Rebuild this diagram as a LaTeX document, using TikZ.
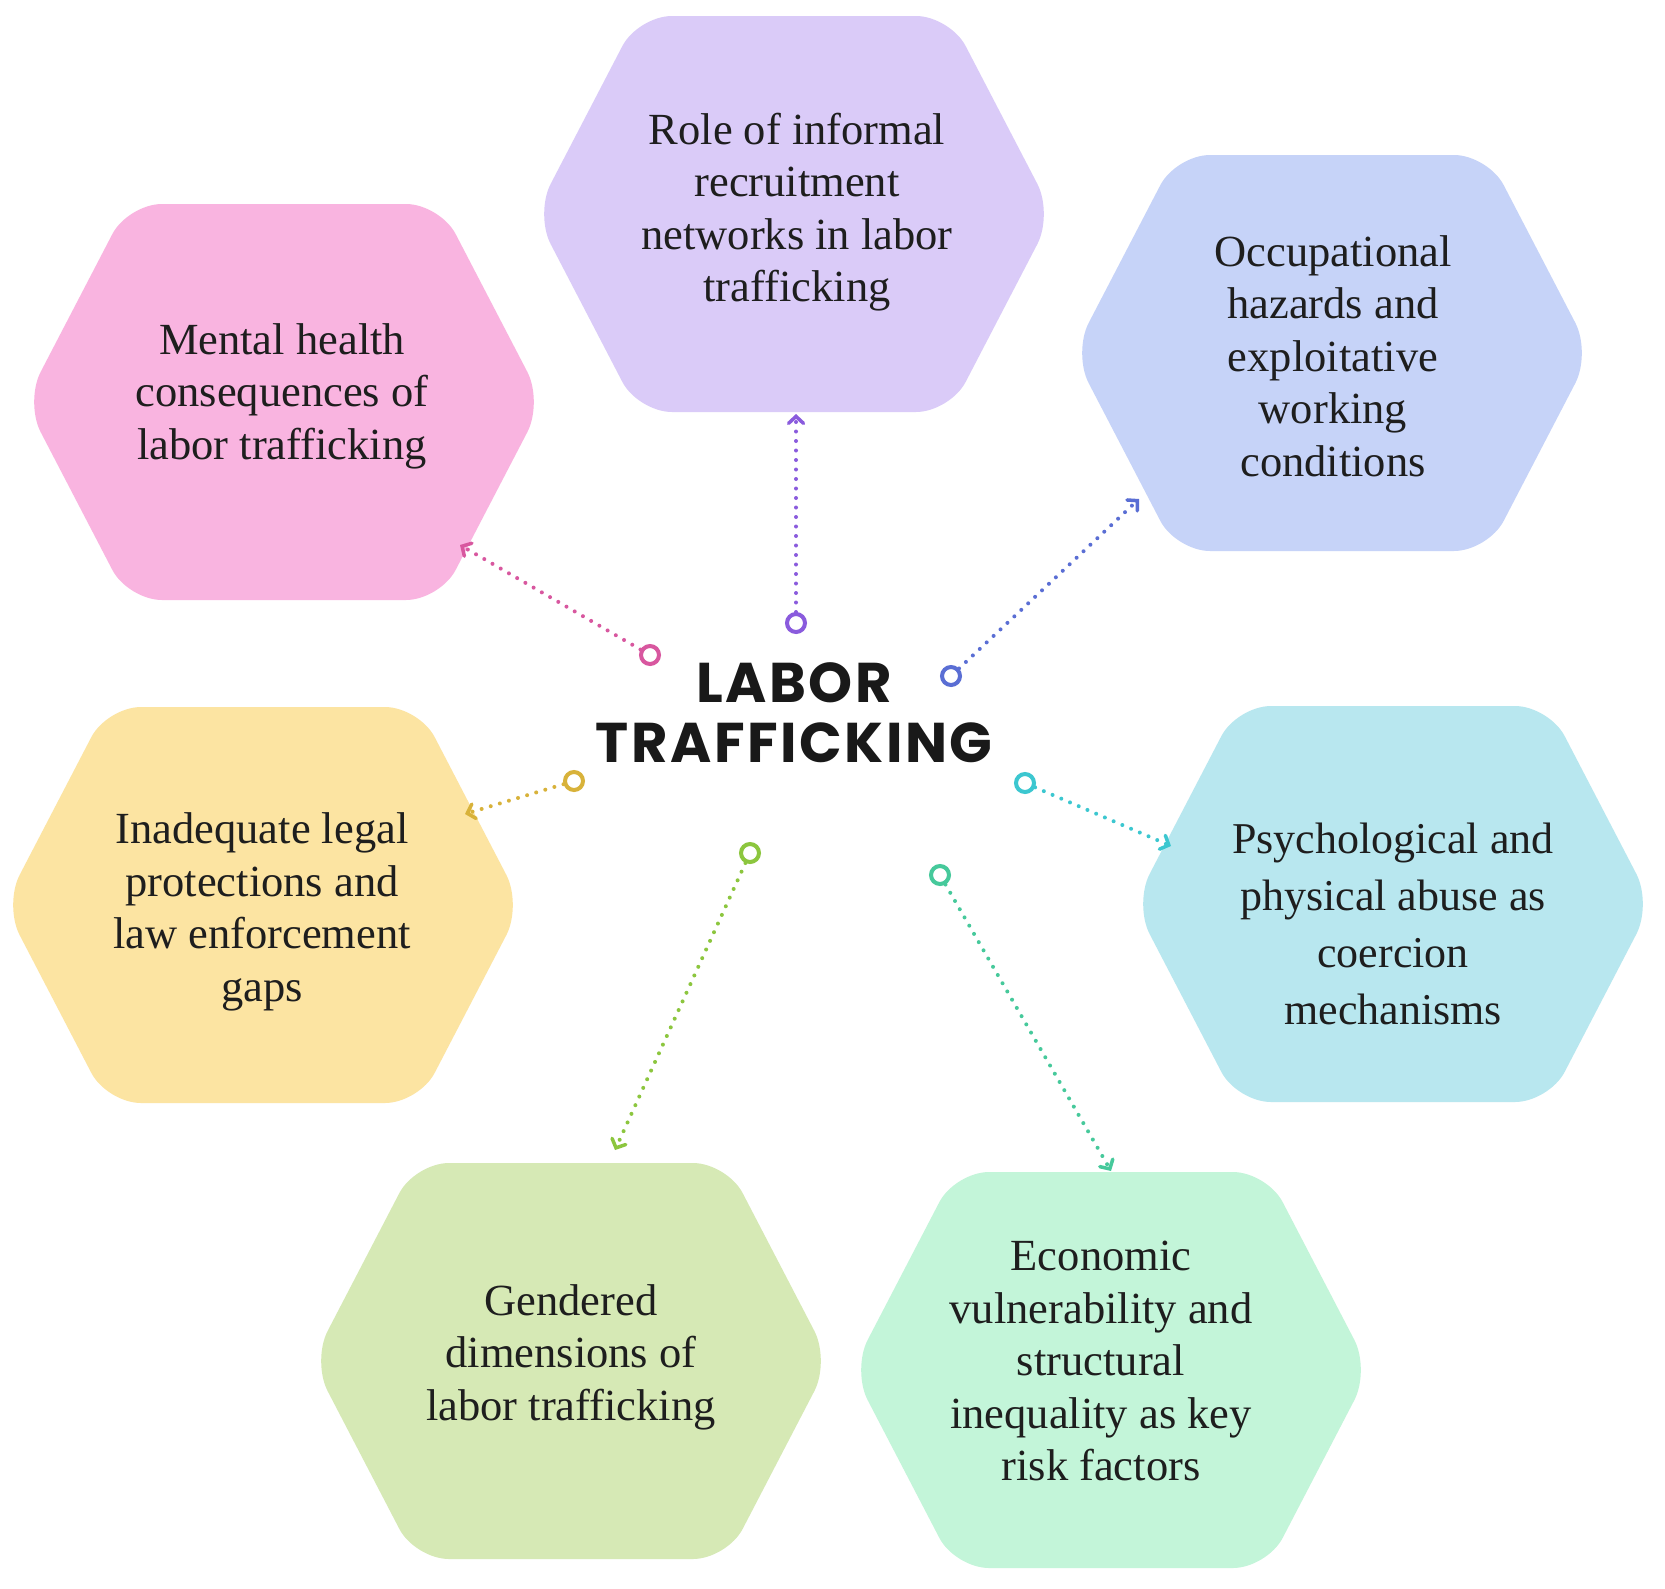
\documentclass[tikz,border=0pt]{standalone}
\usepackage{fontspec}
\setmainfont{Liberation Serif}
\newfontfamily\titlefont{Poppins}[LetterSpace=4.5]
\usetikzlibrary{arrows.meta}
\definecolor{txt}{HTML}{1E1E1E}
\definecolor{fpurple}{HTML}{DACBF8}
\definecolor{lpurple}{HTML}{8A5BDD}
\definecolor{fpink}{HTML}{F9B4E0}
\definecolor{lpink}{HTML}{D8579F}
\definecolor{fblue}{HTML}{C6D3F8}
\definecolor{lblue}{HTML}{5A6ED4}
\definecolor{fyellow}{HTML}{FCE4A2}
\definecolor{lyellow}{HTML}{D8B23A}
\definecolor{fcyan}{HTML}{B8E7EF}
\definecolor{lcyan}{HTML}{3CC7D0}
\definecolor{fgreen}{HTML}{D6E9B5}
\definecolor{lgreen}{HTML}{8CC63E}
\definecolor{fmint}{HTML}{C3F5D9}
\definecolor{lmint}{HTML}{46C99B}
\newcommand\hexa[3]{\fill[#3, rounded corners=34pt] ({#1-259},{#2}) -- ({#1-156},{#2-198}) -- ({#1+156},{#2-198}) -- ({#1+259},{#2}) -- ({#1+156},{#2+198}) -- ({#1-156},{#2+198}) -- cycle;}
\begin{document}
\begin{tikzpicture}[x=1pt,y=-1pt,
  lbl/.style={font=\fontsize{44.5}{52.5}\selectfont, align=center, text=txt, inner sep=0pt},
  dotc/.style={circle, draw=#1, line width=4pt, fill=white, minimum size=18pt, inner sep=0pt},
  conn/.style={draw=#1, line width=4pt, line cap=round, dash pattern=on 0pt off 9.5pt,
    -{Straight Barb[length=7pt,width=15pt,line width=3.5pt,line cap=round]}}]
\useasboundingbox (0,0) rectangle (1665,1588);
\fill[white] (0,0) rectangle (1665,1588);
% hexagons
\hexa{794}{214}{fpurple}
\hexa{284}{402}{fpink}
\hexa{1332}{353}{fblue}
\hexa{263}{905}{fyellow}
\hexa{1393}{904}{fcyan}
\hexa{571}{1361}{fgreen}
\hexa{1111}{1370}{fmint}
% labels
\node[lbl] (role) at (797,212) {Role of informal\\recruitment\\networks in labor\\trafficking};
\node[lbl] (mental) at (282,396) {Mental health\\consequences of\\labor trafficking};
\node[lbl] (occ) at (1333,356) {Occupational\\hazards and\\exploitative\\working\\conditions};
\node[lbl] (legal) at (262,912) {Inadequate legal\\protections and\\law enforcement\\gaps};
\node[lbl, font=\fontsize{44}{57}\selectfont] (psych) at (1393,924) {Psychological and\\physical abuse as\\coercion\\mechanisms};
\node[lbl] (gender) at (571,1357) {Gendered\\dimensions of\\labor trafficking};
\node[lbl] (econ) at (1101,1361) {Economic\\vulnerability and\\structural\\inequality as key\\risk factors};
% title
\node[font=\titlefont\bfseries\fontsize{56}{60}\selectfont, align=center, text=black!90, inner sep=0pt] (title) at (794,713) {LABOR\\TRAFFICKING};
% connectors
\node[dotc=lpink] (cpink) at (650,655) {};
\coordinate (tpink) at (460,545);
\node[dotc=lpurple] (cpurple) at (796,623) {};
\coordinate (tpurple) at (796,414);
\node[dotc=lblue] (cblue) at (951,676) {};
\coordinate (tblue) at (1139,499);
\node[dotc=lyellow] (cyellow) at (574,781) {};
\coordinate (tyellow) at (465,814);
\node[dotc=lcyan] (ccyan) at (1025,783) {};
\coordinate (tcyan) at (1171,846);
\node[dotc=lgreen] (cgreen) at (750,853) {};
\coordinate (tgreen) at (615,1150);
\node[dotc=lmint] (cmint) at (940,875) {};
\coordinate (tmint) at (1111,1171);
\draw[conn=lpink] (cpink) -- (tpink);
\draw[conn=lpurple] (cpurple) -- (tpurple);
\draw[conn=lblue] (cblue) -- (tblue);
\draw[conn=lyellow] (cyellow) -- (tyellow);
\draw[conn=lcyan] (ccyan) -- (tcyan);
\draw[conn=lgreen] (cgreen) -- (tgreen);
\draw[conn=lmint] (cmint) -- (tmint);
\end{tikzpicture}
\end{document}
